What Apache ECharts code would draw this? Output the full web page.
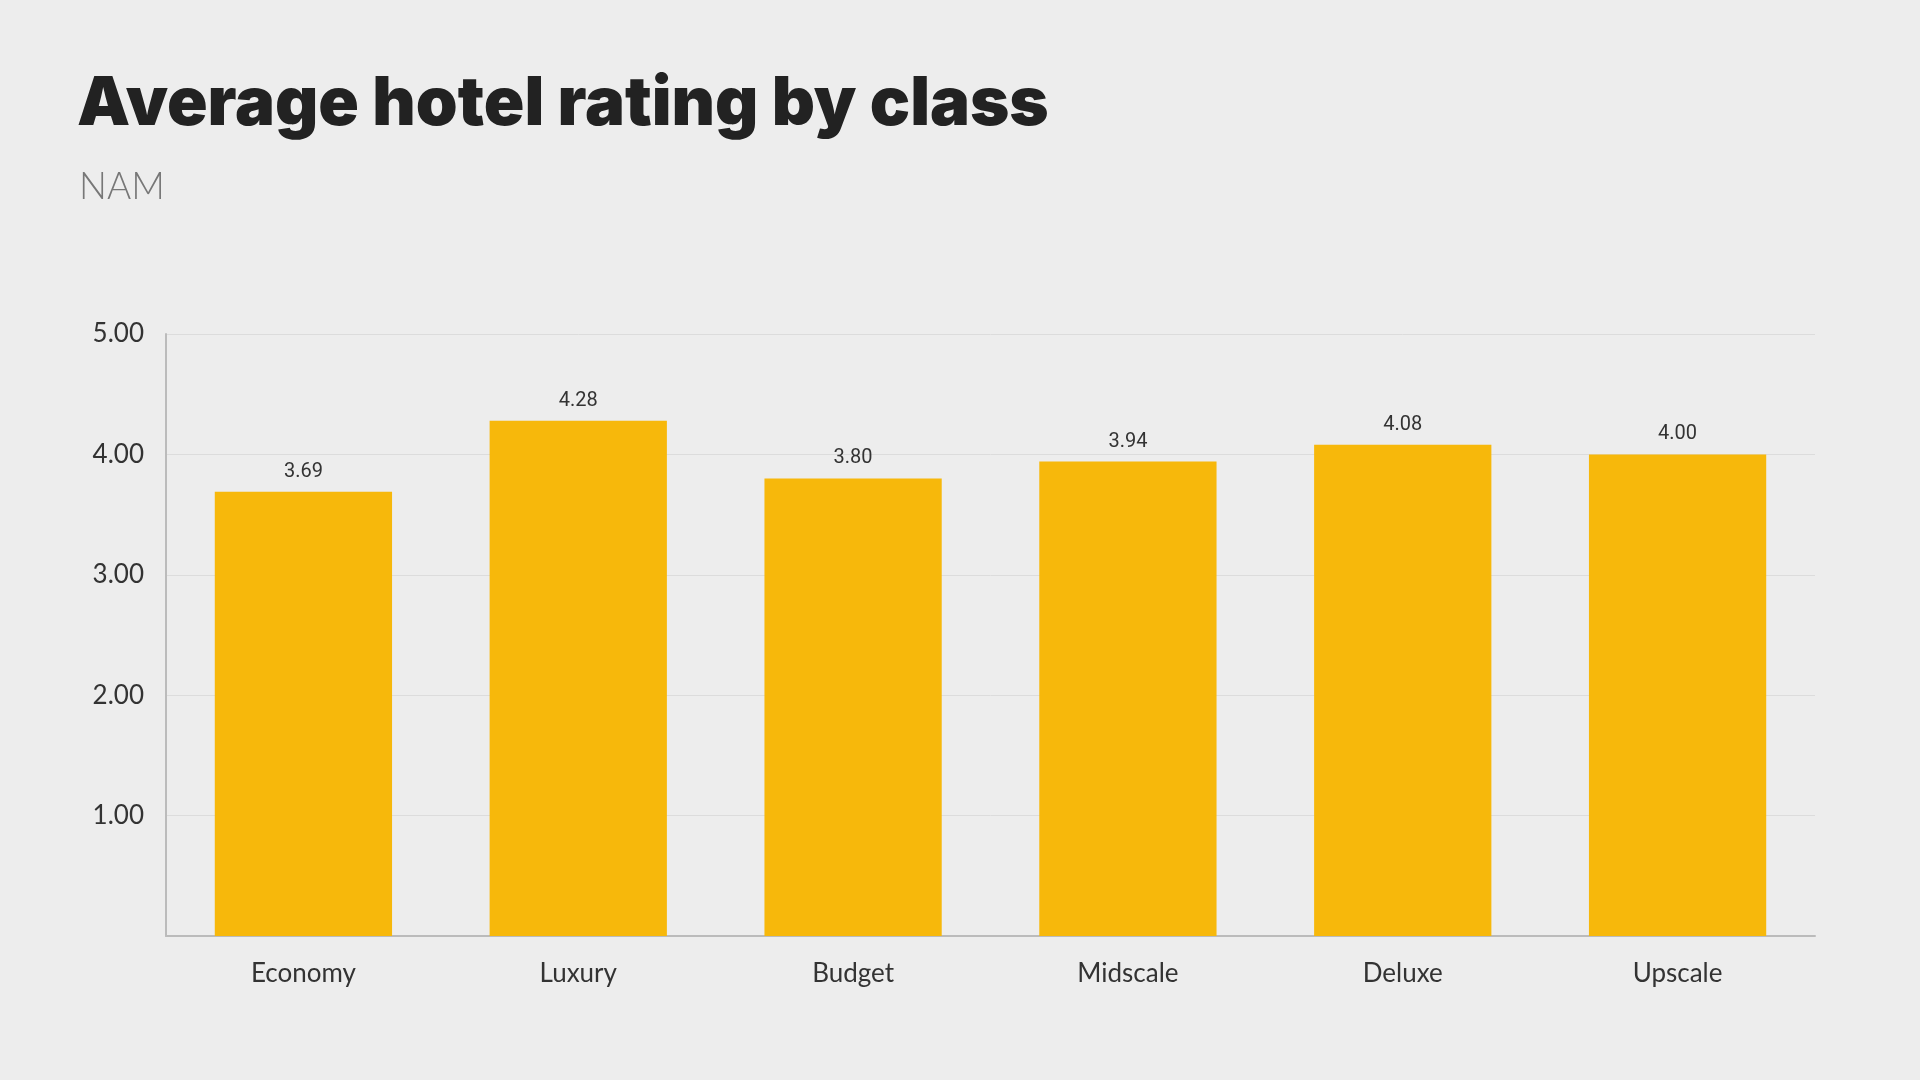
<!DOCTYPE html>
<html>
<head>
<meta charset="utf-8">
<script src="https://cdn.jsdelivr.net/npm/echarts@6/dist/echarts.min.js"></script>
<style>
  html, body { margin: 0; padding: 0; background: #ededed; }
  #chart { width: 1920px; height: 1080px; }
</style>
</head>
<body>
<div id="chart"></div>
<script>
    var categories = ['Economy', 'Luxury', 'Budget', 'Midscale', 'Deluxe', 'Upscale'];
    var ratings = [3.69, 4.28, 3.80, 3.94, 4.08, 4.00];
    var yTicks = [0, 1, 2, 3, 4, 5];

    var myChart = echarts.init(document.getElementById('chart'));

    var option = {
        backgroundColor: '#ededed',
        title: [{
            text: 'Average hotel rating by class',
            left: 72,
            top: 66,
            textStyle: {
                fontFamily: 'Inter',
                fontWeight: 900,
                fontSize: 67,
                color: '#222222'
            }
        }, {
            text: 'NAM',
            left: 74,
            top: 164,
            textStyle: {
                fontFamily: 'Lato',
                fontWeight: 300,
                fontSize: 37,
                color: '#777777'
            }
        }],
        grid: {
            left: 166,
            right: 105,
            top: 334,
            bottom: 144
        },
        xAxis: {
            type: 'category',
            data: categories,
            axisLine: { lineStyle: { color: '#bbbbbb', width: 2 } },
            axisTick: { show: false },
            axisLabel: {
                margin: 25,
                fontFamily: 'Lato',
                fontSize: 26,
                color: '#333333'
            }
        },
        yAxis: {
            type: 'value',
            min: yTicks[0],
            max: yTicks[yTicks.length - 1],
            interval: 1,
            axisLine: { show: true, lineStyle: { color: '#bbbbbb', width: 2 } },
            axisTick: { show: false },
            splitLine: { lineStyle: { color: '#dcdcdc', width: 1 } },
            axisLabel: {
                margin: 22,
                fontFamily: 'Lato',
                fontSize: 26,
                color: '#333333',
                formatter: function (v) { return v === 0 ? '' : v.toFixed(2); }
            }
        },
        series: [{
            type: 'bar',
            data: ratings,
            barWidth: '64.5%',
            itemStyle: { color: '#f7b80b' },
            label: {
                show: true,
                position: 'top',
                distance: 10,
                fontFamily: 'Roboto',
                fontSize: 20,
                color: '#333333',
                formatter: function (p) { return p.value.toFixed(2); }
            }
        }]
    };

    myChart.setOption(option);
</script>
</body>
</html>
